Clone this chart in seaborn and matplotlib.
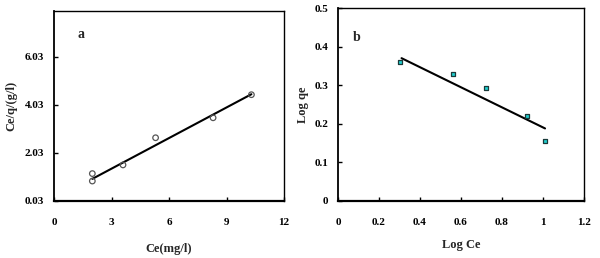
import matplotlib
matplotlib.use("Agg")
import matplotlib.pyplot as plt
import seaborn as sns
import pandas as pd

# panel a: Langmuir (Ce vs Ce/q)
ce = [2.0, 2.0, 3.6, 5.3, 8.3, 10.3]
ce_q = [1.17, 0.86, 1.53, 2.66, 3.49, 4.45]
fit_a_x = [2.0, 10.3]
fit_a_y = [0.95, 4.47]
a_xticks = [0, 3, 6, 9, 12]
a_yticks = [0.03, 2.03, 4.03, 6.03]

# panel b: Freundlich (Log Ce vs Log qe)
log_ce = [0.30, 0.56, 0.72, 0.92, 1.01]
log_qe = [0.361, 0.330, 0.294, 0.220, 0.155]
fit_b_x = [0.31, 1.01]
fit_b_y = [0.370, 0.188]
b_xticks = [0, 0.2, 0.4, 0.6, 0.8, 1.0, 1.2]
b_xlabels = ["0", "0.2", "0.4", "0.6", "0.8", "1", "1.2"]
b_yticks = [0, 0.1, 0.2, 0.3, 0.4, 0.5]
b_ylabels = ["0", "0.1", "0.2", "0.3", "0.4", "0.5"]

sns.set_style("white")
plt.rcParams["font.family"] = ["Liberation Serif", "DejaVu Serif"]
plt.rcParams["font.weight"] = "bold"

df_a = pd.DataFrame({"x": ce, "y": ce_q})
df_b = pd.DataFrame({"x": log_ce, "y": log_qe})

fig = plt.figure(figsize=(6, 2.58), dpi=100)
ax1 = fig.add_axes([54 / 600, 57 / 258, 230 / 600, 190 / 258])
ax2 = fig.add_axes([338 / 600, 57 / 258, 246 / 600, 193 / 258])

# --- panel a
sns.lineplot(x=fit_a_x, y=fit_a_y, ax=ax1, color="black", lw=1.5)
sns.scatterplot(data=df_a, x="x", y="y", ax=ax1, marker="o", s=16,
                facecolor="none", edgecolor="#555555", linewidth=0.9, zorder=3)
ax1.set_xlim(0, 12)
ax1.set_ylim(0.03, 7.93)
ax1.set_xticks(a_xticks)
ax1.set_yticks(a_yticks)
ax1.set_yticklabels([f"{v:.2f}" for v in a_yticks])
ax1.set_xlabel("Ce(mg/l)", fontsize=9, fontweight="bold", labelpad=12)
ax1.set_ylabel("Ce/q/(g/l)", fontsize=9, fontweight="bold", labelpad=5)
ax1.text(0.1, 0.86, "a", transform=ax1.transAxes, fontsize=10, fontweight="bold")

# --- panel b
sns.lineplot(x=fit_b_x, y=fit_b_y, ax=ax2, color="black", lw=1.5)
sns.scatterplot(data=df_b, x="x", y="y", ax=ax2, marker="s", s=12,
                color="#20d0d0", edgecolor="#1a3a3a", linewidth=0.9, zorder=3)
ax2.set_xlim(0, 1.2)
ax2.set_ylim(0, 0.5)
ax2.set_xticks(b_xticks)
ax2.set_xticklabels(b_xlabels)
ax2.set_yticks(b_yticks)
ax2.set_yticklabels(b_ylabels)
ax2.set_xlabel("Log Ce", fontsize=9, fontweight="bold", labelpad=9)
ax2.set_ylabel("Log qe", fontsize=9, fontweight="bold", labelpad=4)
ax2.text(0.06, 0.83, "b", transform=ax2.transAxes, fontsize=10, fontweight="bold")

for ax in (ax1, ax2):
    for sp in ax.spines.values():
        sp.set_color("black")
        sp.set_linewidth(1.0)
    ax.spines["bottom"].set_linewidth(1.6)
    ax.spines["left"].set_linewidth(1.3)
    ax.tick_params(direction="in", length=3, width=1, colors="black",
                   labelsize=8, bottom=True, left=True)
    ax.tick_params(axis="x", pad=12)
    ax.tick_params(axis="y", pad=7)
    for lab in ax.get_xticklabels() + ax.get_yticklabels():
        lab.set_fontweight("bold")

fig.savefig("out.png", dpi=100)
